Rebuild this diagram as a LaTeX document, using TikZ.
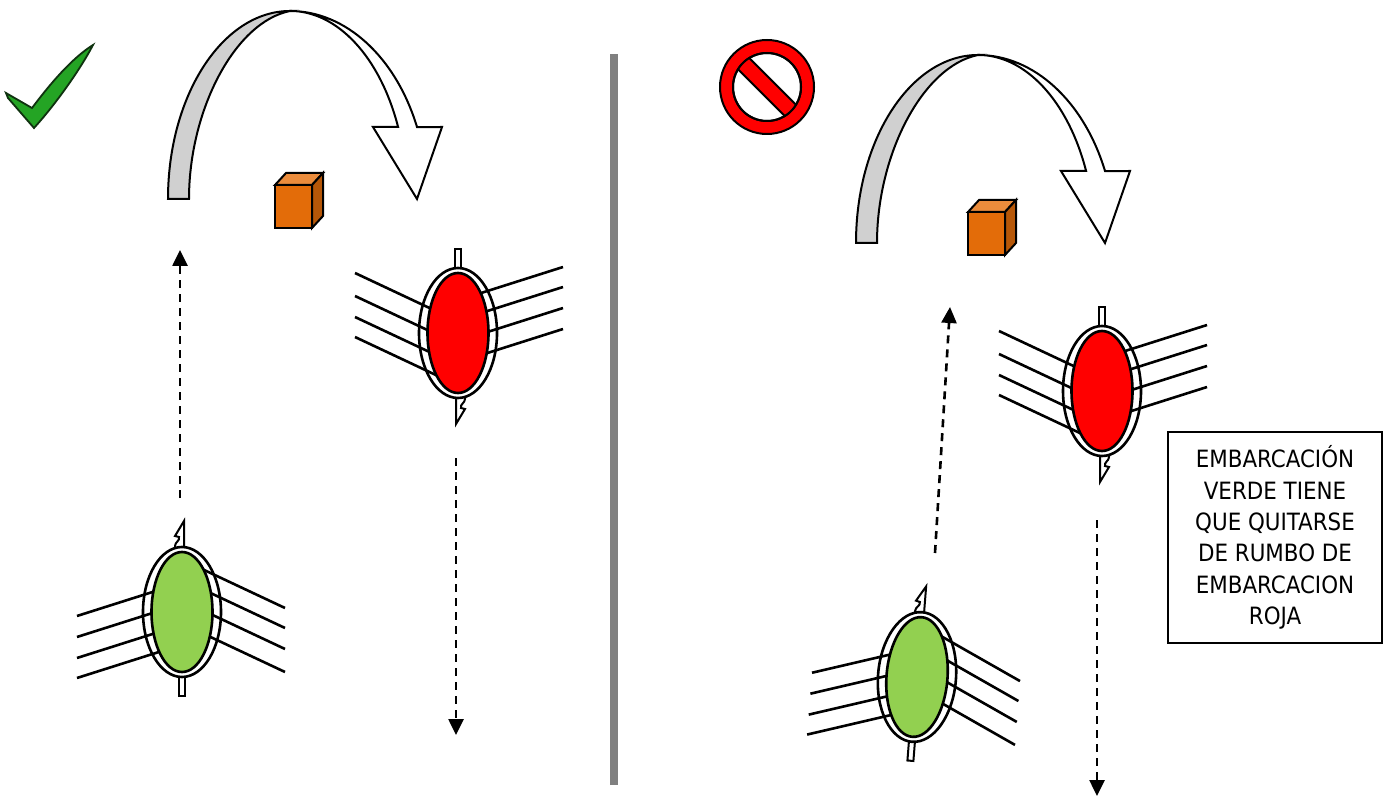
\documentclass[tikz,border=0pt]{standalone}
\usepackage{fontspec}
\newfontfamily\notefont{DejaVu Sans Condensed}
\usetikzlibrary{arrows.meta}
\definecolor{boatgreen}{RGB}{146,208,80}
\definecolor{boatred}{RGB}{255,0,0}
\definecolor{turngray}{RGB}{208,208,208}
\definecolor{cubefront}{RGB}{227,108,9}
\definecolor{cubetop}{RGB}{235,140,60}
\definecolor{cubeside}{RGB}{182,87,8}
\definecolor{checkgreen}{RGB}{36,164,36}
\definecolor{checkdark}{RGB}{15,50,15}
\definecolor{divider}{RGB}{128,128,128}
\tikzstyle{note} = [rectangle,
			draw,
			line width = 1.5pt,
			align = center,
			minimum width = 214pt,
			minimum height = 211pt,
			font = \notefont\fontsize{23.8}{31.4}\selectfont]
\tikzstyle{track} = [draw, line width = 2.6pt, dash pattern = on 8pt off 6pt,
			-{Triangle[width=15pt, length=16pt]}]
\tikzstyle{oar} = [line width = 2.6pt]
\tikzset{
	pics/boat/.style = {code = {
		\draw[line width=2pt, fill=white] (-3,-84) rectangle (3,-60);
		\draw[line width=2pt, fill=white] (2,91) -- (-7,76) -- (-3,75)
			.. controls (-2,71) and (-7,70) .. (-7,66) -- (-7,60) -- (2,60) -- cycle;
		\draw[line width=2.6pt, fill=white] (0,0) ellipse [x radius=39, y radius=65];
		\foreach \ya/\yb in {-4/43, -25/23, -46/2, -66/-21} {
			\draw[oar] (-105,\ya) -- ++(85,27);
			\draw[oar] (20,\yb) -- ++(83,-39);
		}
		\draw[line width=2.6pt, fill=#1] (0,0) ellipse [x radius=30.5, y radius=60];
	}},
	pics/turn/.style = {code = {
		\draw[line width=2pt, fill=turngray] (-122,0)
			.. controls (-122,104) and (-67,188) .. (0,188)
			.. controls (-55,177) and (-101,89) .. (-101,0) -- cycle;
		\draw[line width=2pt, fill=white] (0,188)
			arc[start angle=90, end angle=22.5, x radius=137.5, y radius=188]
			-- (152,72) -- (127,0) -- (83,72) -- (108.1,72)
			arc[start angle=22.5, end angle=90, x radius=117, y radius=188] -- cycle;
	}},
	pics/crate/.style = {code = {
		\draw[line width=2pt, fill=cubefront] (0,0) rectangle (37,43);
		\draw[line width=2pt, fill=cubetop] (0,43) -- (11,55) -- (48,55) -- (37,43) -- cycle;
		\draw[line width=2pt, fill=cubeside] (37,0) -- (48,12) -- (48,55) -- (37,43) -- cycle;
	}}
}
\begin{document}
\begin{tikzpicture}[x = 1pt, y = 1pt]
	\useasboundingbox (0,0) rectangle (1383,796);
	% left half: right of way respected
	\filldraw[fill=checkgreen, draw=checkdark, line width=1.8pt] (6,703) -- (32,688)
		.. controls (50,712) and (72,738) .. (93,751)
		.. controls (80,726) and (55,691) .. (34,668) -- (8,698) -- cycle;
	\pic at (290,597) {turn};
	\pic at (275,568) {crate};
	\pic at (182,184) {boat=boatgreen};
	\pic[rotate=180] at (458,463) {boat=boatred};
	\coordinate (greenFrom) at (180,298);
	\coordinate (greenTo) at (180,546);
	\coordinate (redFrom) at (456,338);
	\coordinate (redTo) at (456,61);
	\path [track] (greenFrom) -- (greenTo);
	\path [track] (redFrom) -- (redTo);
	% divider
	\draw[line width=8pt, color=divider] (614,11) -- (614,742);
	% right half: right of way ignored
	\begin{scope}[shift={(767,709)}]
		\draw[line width=2pt, fill=boatred] (0,0) circle (47);
		\draw[line width=2pt, fill=white] (0,0) circle (34);
		\begin{scope}
			\clip (0,0) circle (34);
			\draw[line width=2pt, fill=boatred, rotate=-45] (-50,-8) rectangle (50,8);
		\end{scope}
		\draw[line width=2pt] (0,0) circle (34);
	\end{scope}
	\pic at (978,553) {turn};
	\pic at (968,541) {crate};
	\pic[rotate=-4.5] at (917,119) {boat=boatgreen};
	\pic[rotate=180] at (1102,405) {boat=boatred};
	\coordinate (greenFrom2) at (935,243);
	\coordinate (greenTo2) at (950,489);
	\coordinate (redFrom2) at (1097,276);
	\coordinate (redTo2) at (1097,0);
	\path [track] (greenFrom2) -- (greenTo2);
	\path [track] (redFrom2) -- (redTo2);
	\node [note] (rule) at (1275,258.5) {EMBARCACIÓN\\VERDE TIENE\\QUE QUITARSE\\DE RUMBO DE\\EMBARCACION\\ROJA};
\end{tikzpicture}
\end{document}
